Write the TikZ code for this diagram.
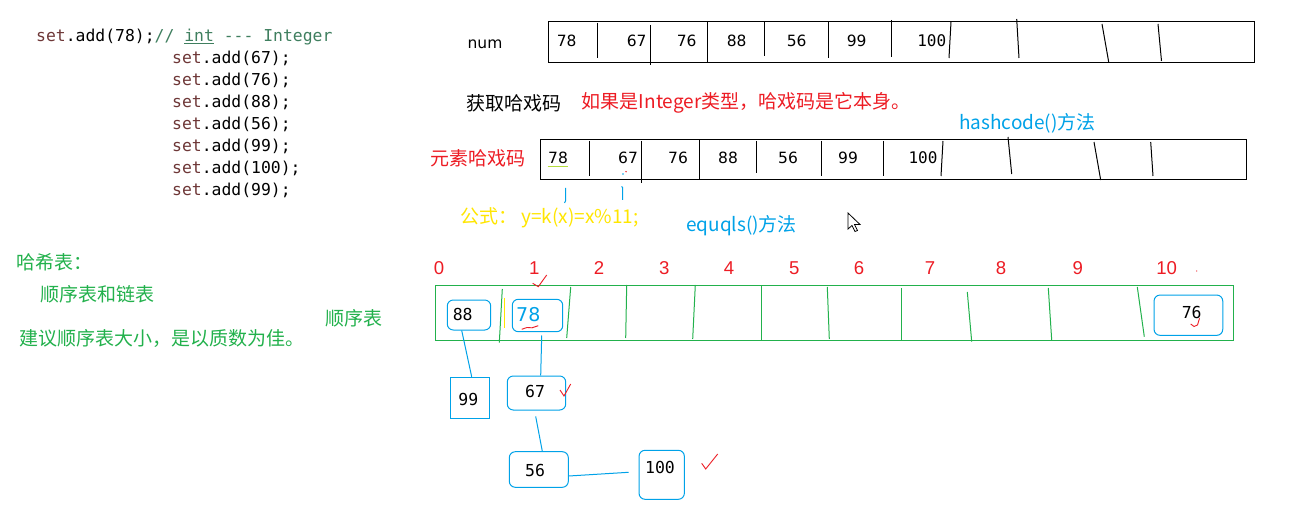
\documentclass[tikz,border=0pt]{standalone}
\usepackage{fontspec}
\newfontfamily\cjk{Noto Sans CJK SC}
\newfontfamily\numf{DejaVu Sans}
\newfontfamily\monof{DejaVu Sans Mono}
\newfontfamily\arialf{Liberation Sans}
\definecolor{pred}{RGB}{237,28,36}
\definecolor{pgreen}{RGB}{34,177,76}
\definecolor{pblue}{RGB}{0,162,232}
\definecolor{pyellow}{RGB}{255,230,0}
\definecolor{setcol}{RGB}{110,55,55}
\definecolor{comcol}{RGB}{63,127,95}
\begin{document}
\begin{tikzpicture}[x=1pt,y=-1pt,
  codeline/.style={anchor=base west, inner sep=0pt, font=\monof\fontsize{16.4}{18}\selectfont},
  cn/.style={anchor=west, inner sep=0pt, font=\cjk\fontsize{19}{20}\selectfont},
  arrnum/.style={inner sep=0pt, font=\numf\fontsize{15.5}{16}\selectfont},
  arrmono/.style={inner sep=0pt, font=\monof\fontsize{16}{17}\selectfont},
  boxnum/.style={inner sep=0pt, font=\monof\fontsize{16.5}{17}\selectfont},
  idx/.style={inner sep=0pt, text=pred, font=\arialf\fontsize{18.6}{20}\selectfont},
  bbox/.style={draw=pblue, line width=1pt, rounded corners=6pt, inner sep=0pt},
  sqbox/.style={draw=pblue, line width=1pt, inner sep=0pt},
  blk/.style={draw=black, line width=1pt},
  grn/.style={draw=pgreen, line width=1pt},
  link/.style={draw=pblue, line width=1pt},
  chk/.style={draw=pred, line width=0.9pt}
]
\useasboundingbox (0,0) rectangle (1307,513);
\fill[white] (0,0) rectangle (1307,513);

% ---- code ----
\node[codeline] (c1) at (36,41.7) {{\color{setcol}set}.add(78);{\color{comcol}// \underline{int} --- Integer}};
\node[codeline] (c2) at (172,63.6) {{\color{setcol}set}.add(67);};
\node[codeline] (c3) at (172,85.5) {{\color{setcol}set}.add(76);};
\node[codeline] (c4) at (172,107.5) {{\color{setcol}set}.add(88);};
\node[codeline] (c5) at (172,129.4) {{\color{setcol}set}.add(56);};
\node[codeline] (c6) at (172,151.4) {{\color{setcol}set}.add(99);};
\node[codeline] (c7) at (172,173.3) {{\color{setcol}set}.add(100);};
\node[codeline] (c8) at (172,195.3) {{\color{setcol}set}.add(99);};

% ---- num array ----
\node[arrnum] (numlbl) at (485,44) {num};
\draw[blk] (548,21.7) rectangle (1254,62.3);
\draw[blk] (597,22.7) -- (597,58);
\draw[blk] (650,25) -- (650,65);
\draw[blk] (707,21.7) -- (707,62.3);
\draw[blk] (764,22) -- (764,56);
\draw[blk] (828.5,22) -- (828.5,58);
\draw[blk] (891.5,20) -- (891.5,57);
\draw[blk] (951,22) -- (949,58);
\draw[blk] (1016.7,19) -- (1019,58);
\draw[blk] (1102,24) -- (1108.7,62);
\draw[blk] (1158,24) -- (1161.5,61);
\node[arrnum] (n1) at (566.7,40.7) {78};
\node[arrnum] (n2) at (636.7,40.7) {67};
\node[arrnum] (n3) at (686.7,40.7) {76};
\node[arrnum] (n4) at (736.7,40.7) {88};
\node[arrnum] (n5) at (796.7,40.7) {56};
\node[arrnum] (n6) at (856.7,40.7) {99};
\node[arrmono] (n7) at (931.7,40.7) {100};

% ---- texts ----
\node[cn] (get) at (466.7,103) {获取哈戏码};
\node[cn, text=pred] (ifint) at (581.7,103) {如果是Integer类型，哈戏码是它本身。};
\node[cn, text=pblue] (hc) at (959,123) {hashcode()方法};
\node[cn, text=pred] (elem) at (430,158) {元素哈戏码};

% ---- hash code array ----
\draw[blk] (540.7,139.7) rectangle (1246.7,180);
\draw[blk] (589,141) -- (589,176);
\draw[blk] (641.7,141) -- (641.7,183);
\draw[blk] (699.3,139.7) -- (699.3,180);
\draw[blk] (756,141) -- (756,173);
\draw[blk] (821,141) -- (821,176);
\draw[blk] (883.3,141) -- (883.3,176);
\draw[blk] (943,141) -- (941,176);
\draw[blk] (1008,137) -- (1011.7,174);
\draw[blk] (1094,142) -- (1100.7,180);
\draw[blk] (1150.7,142) -- (1153,176);
\node[arrnum] (h1) at (558,157.7) {78};
\node[arrnum] (h2) at (628,157.7) {67};
\node[arrnum] (h3) at (678,157.7) {76};
\node[arrnum] (h4) at (728,157.7) {88};
\node[arrnum] (h5) at (788,157.7) {56};
\node[arrnum] (h6) at (848,157.7) {99};
\node[arrmono] (h7) at (923,157.7) {100};
\draw[draw={rgb,255:red,180;green,220;blue,60}, line width=1pt] (547.7,166.7) -- (568,166.7);
\fill[pred] (626,171.7) circle (0.8);
\fill[pblue] (623,174) circle (0.8);
\draw[link] (565.5,188) -- (565.5,201) -- (564.5,203);
\draw[link] (621.5,186.5) -- (622.7,187.5) -- (622.7,200);

% ---- formula ----
\node[cn, text=pyellow] (formula) at (460,218) {公式： y=k(x)=x\%11;};
\node[cn, text=pblue] (eq) at (686,226) {equqls()方法};
\draw[black, line width=0.8pt, fill=white] (848,213) -- (848,229) -- (852,225.5) -- (855,231.5) -- (857.5,230.5) -- (854.5,224.5) -- (860,224.5) -- cycle;

% ---- left notes ----
\node[cn, text=pgreen] (ht) at (16.7,262) {哈希表：};
\node[cn, text=pgreen] (sl) at (40,294) {顺序表和链表};
\node[cn, text=pgreen] (adv) at (19.3,338) {建议顺序表大小，是以质数为佳。};
\node[cn, text=pgreen] (sx) at (325,318) {顺序表};

% ---- index numbers ----
\node[idx] (i0) at (439,268) {0};
\node[idx] (i1) at (534.3,268) {1};
\node[idx] (i2) at (599,268) {2};
\node[idx] (i3) at (664.3,268) {3};
\node[idx] (i4) at (729,268) {4};
\node[idx] (i5) at (794.3,268) {5};
\node[idx] (i6) at (859,268) {6};
\node[idx] (i7) at (930,268) {7};
\node[idx] (i8) at (1001,268) {8};
\node[idx] (i9) at (1077.7,268) {9};
\node[idx] (i10) at (1166.7,268) {10};
\fill[pred] (1196.7,271) circle (0.7);

% ---- hash table ----
\draw[grn] (435,285) rectangle (1233.3,340);
\draw[grn] (502.3,289) -- (499.3,342.7);
\draw[draw=pyellow, line width=0.8pt] (504,297.7) -- (504,328);
\draw[grn] (570.7,287) -- (566.7,338);
\draw[grn] (626.7,285) -- (625.7,338);
\draw[grn] (695.3,285) -- (692.7,339);
\draw[grn] (761.7,285) -- (761.7,340);
\draw[grn] (827.3,287) -- (829.3,339);
\draw[grn] (901.7,288) -- (901.7,340);
\draw[grn] (967.3,292) -- (971.7,341.7);
\draw[grn] (1048.3,288) -- (1051.7,340);
\draw[grn] (1137.3,287) -- (1144.3,336.7);

% ---- chain boxes ----
\node[bbox, minimum width=43.4pt, minimum height=30pt] (b88) at (469,315) {};
\node[boxnum] (t88) at (462.7,314.3) {88};
\node[bbox, minimum width=50.4pt, minimum height=32.4pt] (b78) at (537.5,315.5) {};
\node[inner sep=0pt, text=pblue, font=\numf\fontsize{19}{20}\selectfont] (t78) at (528.3,314.3) {78};
\node[sqbox, minimum width=38.6pt, minimum height=41pt] (b99) at (470,397.8) {};
\node[boxnum] (t99) at (468.3,399) {99};
\node[bbox, minimum width=58.4pt, minimum height=34pt] (b67) at (536.5,393) {};
\node[boxnum] (t67) at (535,391) {67};
\node[bbox, minimum width=59pt, minimum height=35.6pt] (b56) at (538.8,469.5) {};
\node[boxnum] (t56) at (535,470.7) {56};
\node[bbox, minimum width=45.3pt, minimum height=49pt] (b100) at (661.7,474.8) {};
\node[boxnum] (t100) at (660,467.3) {100};
\node[bbox, minimum width=68.7pt, minimum height=40.3pt] (b76) at (1188.4,315.2) {};
\node[boxnum] (t76) at (1191.7,312.7) {76};

% ---- links ----
\draw[link] ([xshift=-7.3pt]b88.south) -- ([xshift=1.7pt]b99.north);
\draw[link] ([xshift=4.2pt,yshift=-3.3pt]b78.south) -- ([xshift=4.2pt]b67.north);
\draw[link] ([xshift=-0.8pt,yshift=-6pt]b67.south) -- ([xshift=3.5pt]b56.north);
\draw[link] ([yshift=-6.5pt]b56.east) -- ([xshift=-10pt,yshift=2.5pt]b100.west);

% ---- red marks ----
\draw[chk] (532.7,283.3) -- (538.3,286.7) -- (546.7,275);
\draw[chk] (521.7,329.3) -- (527,327.5) -- (532,327.8) -- (538.3,325.7);
\draw[chk] (560,390) -- (564,396) -- (570.7,384);
\draw[chk] (701.7,463.3) -- (705.7,469) -- (717.7,454);
\draw[chk] (1190.7,324) -- (1194,326.5) -- (1197.5,325) -- (1199.5,318.3);
\end{tikzpicture}
\end{document}
